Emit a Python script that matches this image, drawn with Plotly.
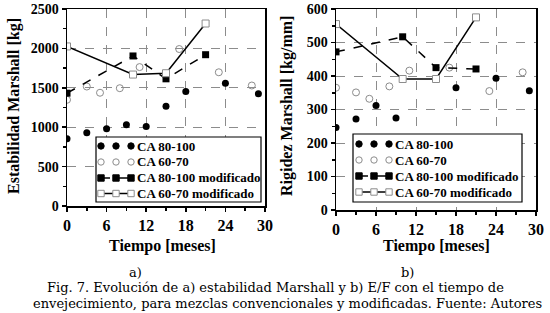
import plotly.graph_objects as go

# ---- data: Estabilidad Marshall [kg] ----
t_cb = [0, 3, 6, 9, 12, 15, 18, 24, 29]
est_cb = [853, 929, 980, 1030, 1009, 1267, 1453, 1558, 1424]
t_cc = [0, 3, 5, 8, 11, 17, 23, 28]
est_cc = [1348, 1516, 1437, 1495, 1763, 1992, 1697, 1529]
t_mod = [0, 10, 15, 21]
est_cbm = [1432, 1904, 1614, 1920]
est_ccm = [2025, 1668, 1685, 2316]

# ---- data: Rigidez Marshall [kg/mm] ----
t_cb_r = [0, 3, 6, 9, 15, 18, 24, 29]
rig_cb = [246, 272, 312, 275, 391, 365, 393, 356]
t_cc_r = [0, 3, 5, 8, 11, 17, 23, 28]
rig_cc = [365, 351, 332, 369, 416, 425, 355, 411]
rig_cbm = [472, 517, 425, 421]
rig_ccm = [555, 391, 391, 575]

names = ["CA 80-100", "CA 60-70", "CA 80-100 modificado", "CA 60-70 modificado"]
x_ticks = [0, 6, 12, 18, 24, 30]

W, H = 550, 313
SERIF = "Liberation Serif, Times New Roman, serif"
CAPF = "DejaVu Serif, serif"
GRAY = "#8c8c8c"


def px(x, y):
    return x / W, 1 - y / H


fig = go.Figure()


def add_set(xa, ya, tcb, ycb, tcc, ycc, tm, ycbm, yccm):
    fig.add_trace(go.Scatter(x=tcb, y=ycb, mode="markers", name=names[0],
                             marker=dict(symbol="circle", size=7, color="black"),
                             xaxis=xa, yaxis=ya))
    fig.add_trace(go.Scatter(x=tcc, y=ycc, mode="markers", name=names[1],
                             marker=dict(symbol="circle-open", size=7, color=GRAY,
                                         line=dict(width=1)),
                             xaxis=xa, yaxis=ya))
    fig.add_trace(go.Scatter(x=tm, y=ycbm, mode="lines+markers", name=names[2],
                             line=dict(color="black", width=1.5, dash="dash"),
                             marker=dict(symbol="square", size=7, color="black"),
                             xaxis=xa, yaxis=ya))
    fig.add_trace(go.Scatter(x=tm, y=yccm, mode="lines+markers", name=names[3],
                             line=dict(color="black", width=1.5),
                             marker=dict(symbol="square", size=7, color="white",
                                         line=dict(color=GRAY, width=1)),
                             xaxis=xa, yaxis=ya))


add_set("x", "y", t_cb, est_cb, t_cc, est_cc, t_mod, est_cbm, est_ccm)
add_set("x2", "y2", t_cb_r, rig_cb, t_cc_r, rig_cc, t_mod, rig_cbm, rig_ccm)

xcommon = dict(range=[0, 30], tickvals=x_ticks, showline=True, linecolor="black",
               linewidth=1.5, mirror=True, ticks="outside", ticklen=4, tickwidth=1.5,
               tickcolor="black", showgrid=True, gridcolor=GRAY, griddash="dash",
               gridwidth=1, zeroline=False, automargin=False,
               minor=dict(dtick=3, tick0=0, ticks="outside", ticklen=3,
                          tickcolor="black", showgrid=False),
               tickfont=dict(family=SERIF, size=16, color="black", weight="bold"))
ycommon = dict(showline=True, linecolor="black", linewidth=1.5, mirror=True,
               ticks="outside", ticklen=4, tickwidth=1.5, tickcolor="black",
               showgrid=True, gridcolor=GRAY, griddash="dash", gridwidth=1,
               zeroline=False, automargin=False,
               tickfont=dict(family=SERIF, size=14, color="black", weight="bold"))

shapes = []
annotations = []


def add_legend(box, sym_x, text_x, rows_y):
    x0, x1, y0, y1 = box
    a, b = px(x0, y0)
    c, d = px(x1, y1)
    shapes.append(dict(type="rect", xref="paper", yref="paper", x0=a, x1=c, y0=d, y1=b,
                       line=dict(color="black", width=1.2), fillcolor="white",
                       layer="above"))
    r = 3.2
    for i, ry in enumerate(rows_y):
        if i >= 2:
            xa, ya = px(sym_x[0], ry)
            xb, _ = px(sym_x[2], ry)
            shapes.append(dict(type="line", xref="paper", yref="paper", x0=xa, x1=xb,
                               y0=ya, y1=ya, layer="above",
                               line=dict(color="black", width=1.5,
                                         dash="dash" if i == 2 else "solid")))
        for sx in sym_x:
            u0, v1 = px(sx - r, ry - r)
            u1, v0 = px(sx + r, ry + r)
            if i == 0:
                shapes.append(dict(type="circle", xref="paper", yref="paper", x0=u0, x1=u1,
                                   y0=v0, y1=v1, fillcolor="black",
                                   line=dict(color="black", width=1), layer="above"))
            elif i == 1:
                shapes.append(dict(type="circle", xref="paper", yref="paper", x0=u0, x1=u1,
                                   y0=v0, y1=v1, fillcolor="white",
                                   line=dict(color=GRAY, width=1), layer="above"))
            elif i == 2:
                shapes.append(dict(type="rect", xref="paper", yref="paper", x0=u0, x1=u1,
                                   y0=v0, y1=v1, fillcolor="black",
                                   line=dict(color="black", width=1), layer="above"))
            else:
                shapes.append(dict(type="rect", xref="paper", yref="paper", x0=u0, x1=u1,
                                   y0=v0, y1=v1, fillcolor="white",
                                   line=dict(color=GRAY, width=1), layer="above"))
        tx, ty = px(text_x, ry)
        annotations.append(dict(text=names[i], x=tx, y=ty, xref="paper", yref="paper",
                                xanchor="left", yanchor="middle", showarrow=False,
                                font=dict(family=SERIF, size=13, color="black",
                                          weight="bold")))


add_legend((96, 261, 137, 202), (101, 116, 131), 135, (146, 162, 178, 193.5))
add_legend((353, 522, 134, 202), (359, 374, 389), 393, (144, 160, 176, 192))


def text_at(t, x, y, size, font=SERIF, bold=False, angle=0):
    xx, yy = px(x, y)
    annotations.append(dict(text=t, x=xx, y=yy, xref="paper", yref="paper",
                            xanchor="center", yanchor="middle",
                            showarrow=False, textangle=angle,
                            font=dict(family=font, size=size, color="black",
                                      weight="bold" if bold else "normal")))


text_at("Tiempo [meses]", 162, 246, 16, bold=True)
text_at("Tiempo [meses]", 436, 246, 16, bold=True)
text_at("Estabilidad Marshall [kg]", 14, 106, 16, bold=True, angle=-90)
text_at("Rigidez Marshall [kg/mm]", 287, 106, 16, bold=True, angle=-90)
text_at("a)", 135, 272, 13, font=CAPF)
text_at("b)", 407, 272, 13, font=CAPF)
text_at("Fig. 7. Evolución de a) estabilidad Marshall y b) E/F con el tiempo de",
        275, 287, 13, font=CAPF)
text_at("envejecimiento, para mezclas convencionales y modificadas. Fuente: Autores",
        287, 303, 13, font=CAPF)

fig.update_layout(
    width=W, height=H,
    margin=dict(l=0, r=0, t=0, b=0, autoexpand=False),
    plot_bgcolor="white", paper_bgcolor="white",
    showlegend=False, hovermode=False,
    xaxis=dict(domain=[67 / W, 265 / W], anchor="y", **xcommon),
    yaxis=dict(domain=[1 - 206 / H, 1 - 9 / H], anchor="x", range=[0, 2500],
               dtick=500, minor=dict(dtick=250, ticks="outside", ticklen=3,
                                     tickcolor="black", showgrid=False),
               **ycommon),
    xaxis2=dict(domain=[336 / W, 536 / W], anchor="y2", **xcommon),
    yaxis2=dict(domain=[1 - 210 / H, 1 - 9 / H], anchor="x2", range=[0, 600],
                dtick=100, minor=dict(dtick=50, ticks="outside", ticklen=3,
                                      tickcolor="black", showgrid=False),
                **ycommon),
    shapes=shapes,
    annotations=annotations,
)

fig.write_html("out.html", config={"responsive": False, "displayModeBar": False,
                                   "staticPlot": True},
               post_script="document.body.style.margin='0';"
                           "document.body.style.padding='0';"
                           "document.documentElement.style.overflow='hidden';")
